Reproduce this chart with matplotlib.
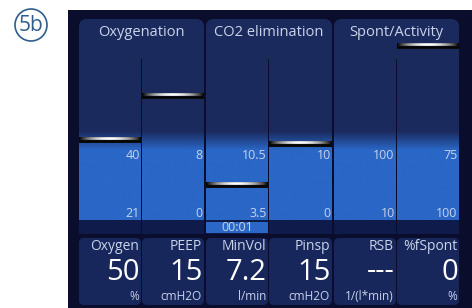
import numpy as np
import matplotlib
matplotlib.use('Agg')
import matplotlib.pyplot as plt
from matplotlib.patches import FancyBboxPatch, Circle, Rectangle
from matplotlib.colors import LinearSegmentedColormap

plt.rcParams['font.family'] = ['Open Sans', 'DejaVu Sans']

# data
groups = ['Oxygenation', 'CO2 elimination', 'Spont/Activity']
params = ['Oxygen', 'PEEP', 'MinVol', 'Pinsp', 'RSB', '%fSpont']
values = ['50', '15', '7.2', '15', '---', '0']
units = ['%', 'cmH2O', 'l/min', 'cmH2O', '1/(l*min)', '%']
scale_top = ['40', '8', '10.5', '10', '100', '75']
scale_bottom = ['21', '0', '3.5', '0', '10', '100']
# setting marker height in % of the column (None = no marker)
marker_level = [49.0, 71.6, 25.8, 46.9, None, 97.4]
timer = '00:01'

# colours
BG = '#0a0e2c'
NAVY = '#1b2a5d'
BLUE = '#2a67c6'
STRIP = '#0f1b4b'
PANEL = '#17275b'
TXT = '#c9d3ea'

W, H = 472, 308
fig = plt.figure(figsize=(W / 100, H / 100), dpi=100)
ax = fig.add_axes([0, 0, 1, 1])
ax.set_xlim(0, W)
ax.set_ylim(H, 0)
ax.axis('off')

# column layout in pixels
cols = [(79, 141), (142, 204), (206, 268), (269, 332), (334, 396), (397, 459)]
col_top, col_bot = 40, 234

ax.add_patch(Rectangle((68, 10), W - 68, H - 10, color=BG, lw=0))

# "5b" badge
ax.add_patch(Circle((31, 25), 16, fill=False, ec='#2f5d8c', lw=1.2))
ax.text(31, 25.5, '5b', color='#2f5d8c', fontsize=15, ha='center', va='center')

# group header boxes
for g, name in enumerate(groups):
    x0 = cols[2 * g][0]
    x1 = cols[2 * g + 1][1]
    ax.add_patch(FancyBboxPatch((x0, 19), x1 - x0, 40,
                                boxstyle='round,pad=0,rounding_size=8',
                                fc=NAVY, ec='none'))
    ax.text((x0 + x1) / 2, 32, name, color=TXT, fontsize=10.5,
            ha='center', va='center')

cmap = LinearSegmentedColormap.from_list(
    'col', [(0, BLUE), (0.433, BLUE), (0.53, NAVY), (1, NAVY)])
grad = np.linspace(0, 1, 400).reshape(-1, 1)

# silver marker bitmap
u = np.linspace(-1, 1, 80)
shine = np.clip(1 - np.abs(u) ** 1.8, 0, 1) ** 0.9
rows = [shine * 0.85, shine, shine * 0.9, np.full_like(u, 0.04),
        np.full_like(u, 0.02), np.full_like(u, 0.05)]
marker_img = np.stack([np.stack([r, r, r], axis=-1) for r in rows])

for i, (x0, x1) in enumerate(cols):
    cax = fig.add_axes([x0 / W, 1 - col_bot / H, (x1 - x0) / W,
                        (col_bot - col_top) / H])
    cax.imshow(grad, extent=[0, 1, 0, 100], aspect='auto', origin='lower',
               cmap=cmap, interpolation='bilinear')
    cax.axhspan(0, 7.2, color=STRIP, lw=0)
    if i == 2:
        cax.axhspan(0.5, 6.2, color=BLUE, lw=0)
        cax.text(0.5, 3.3, timer, color=TXT, fontsize=9, ha='center',
                 va='center', transform=cax.get_yaxis_transform())
    cax.text(0.98, 40.7, scale_top[i], color=TXT, fontsize=9,
             ha='right', va='center', transform=cax.get_yaxis_transform())
    cax.text(0.98, 10.8, scale_bottom[i], color=TXT, fontsize=9,
             ha='right', va='center', transform=cax.get_yaxis_transform())
    lvl = marker_level[i]
    if lvl is not None:
        cax.imshow(marker_img, extent=[0, 1, lvl - 2.0, lvl + 1.0],
                   aspect='auto', interpolation='bilinear')
    cax.set_xlim(0, 1)
    cax.set_ylim(0, 100)
    cax.axis('off')

    # value panel underneath
    ax.add_patch(FancyBboxPatch((x0, 238), x1 - x0, 67,
                                boxstyle='round,pad=0,rounding_size=5',
                                fc=PANEL, ec='none'))
    ax.text(x1 - 2, 247, params[i], color=TXT, fontsize=10,
            ha='right', va='center')
    ax.text(x1 - 1, 272, values[i], color='white', fontsize=21,
            ha='right', va='center')
    ax.text(x1 - 2, 296, units[i], color=TXT, fontsize=8.5,
            ha='right', va='center')

fig.savefig('out.png', dpi=100, facecolor='white')
